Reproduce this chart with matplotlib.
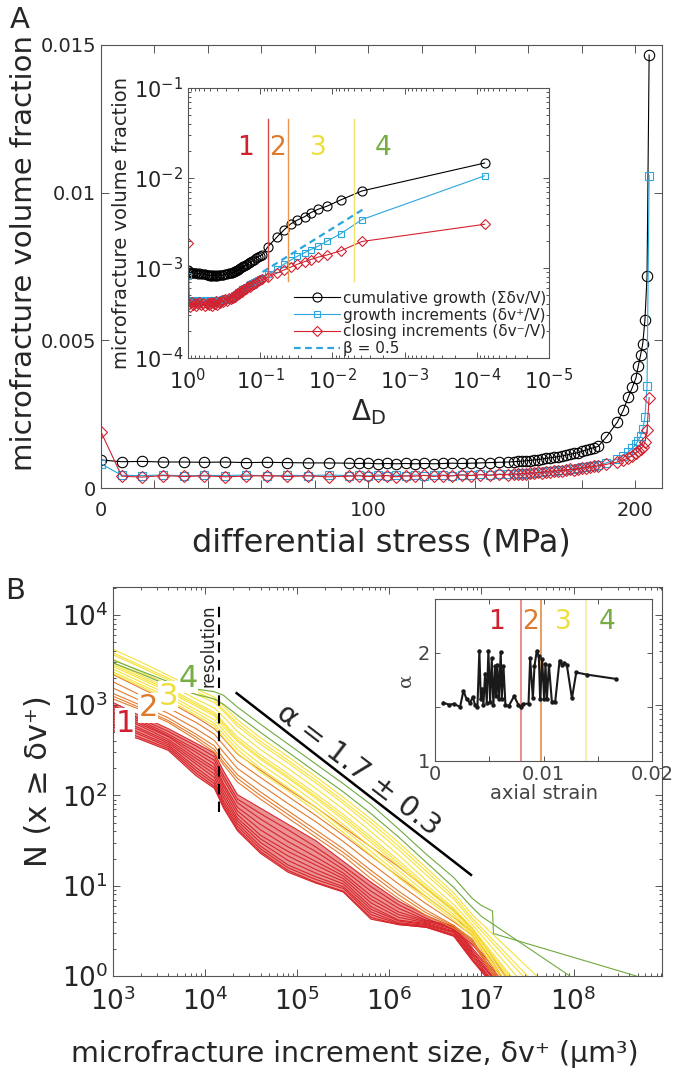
import numpy as np
import matplotlib
matplotlib.use('Agg')
import matplotlib.pyplot as plt
from matplotlib.ticker import (FixedLocator, NullFormatter, LogLocator,
                               FuncFormatter, MultipleLocator)

plt.rcParams['font.family'] = ['DejaVu Sans']
plt.rcParams['mathtext.fontset'] = 'dejavusans'

# ---------------- Panel A data ----------------
PEAK_STRESS = 205.2  # MPa, stress at failure
delta_D = [1.0, 0.9622, 0.9245, 0.8867, 0.8489, 0.8112, 0.7734, 0.7356, 0.6979, 0.6601, 0.6223, 0.5846, 0.5468,
           0.5297, 0.5127, 0.4956, 0.4786, 0.4615, 0.4444, 0.4274, 0.4103, 0.3933, 0.3762, 0.3592, 0.3421,
           0.3251, 0.3080, 0.2909, 0.2739, 0.2568,
           0.2471, 0.2398, 0.2325, 0.2251, 0.2178, 0.2105, 0.2032, 0.1959, 0.1886, 0.1813, 0.1740, 0.1667,
           0.1594, 0.1520, 0.1447, 0.1374, 0.1301, 0.1228, 0.1155,
           0.108, 0.100,
           0.093, 0.078, 0.058, 0.047, 0.038, 0.0306, 0.0242, 0.020, 0.0158, 0.0117, 0.0077, 0.0039, 0.000078]
cum_growth = [0.00095, 0.00089, 0.00090, 0.00088, 0.00088, 0.00087, 0.00088, 0.00086, 0.00087, 0.00086, 0.00085, 0.00085, 0.00084,
              0.00083, 0.00084, 0.00082, 0.00083, 0.00082, 0.00083, 0.00082, 0.00083, 0.00082, 0.00083, 0.00084, 0.00083,
              0.00084, 0.00085, 0.00086, 0.00087, 0.00088,
              0.00089, 0.00090, 0.00091, 0.00092, 0.00093, 0.00095, 0.00096, 0.00098, 0.00100, 0.00102, 0.00104, 0.00106,
              0.00108, 0.00111, 0.00114, 0.00117, 0.00120, 0.00124, 0.00128,
              0.00133, 0.00137,
              0.00141, 0.00173, 0.00223, 0.00264, 0.00308, 0.00341, 0.00372, 0.00412, 0.00449, 0.00489, 0.00570, 0.00718, 0.01466]
growth_inc = [0.00082, 0.00043, 0.00042, 0.00044, 0.00041, 0.00043, 0.00042, 0.00044, 0.00041, 0.00043, 0.00042, 0.00044, 0.00042,
              0.00043, 0.00041, 0.00044, 0.00042, 0.00043, 0.00041, 0.00044, 0.00042, 0.00043, 0.00044, 0.00042, 0.00045,
              0.00043, 0.00046, 0.00044, 0.00047, 0.00046,
              0.00048, 0.00047, 0.00050, 0.00049, 0.00052, 0.00051, 0.00054, 0.00053, 0.00056, 0.00058, 0.00057, 0.00060,
              0.00062, 0.00061, 0.00064, 0.00066, 0.00068, 0.00070, 0.00072,
              0.00074, 0.00076,
              0.00078, 0.00085, 0.00098, 0.00110, 0.00122, 0.00135, 0.00148, 0.00160, 0.00175, 0.00200, 0.00240, 0.00345, 0.01058]
closing_inc = [0.00190, 0.00040, 0.00037, 0.00042, 0.00039, 0.00041, 0.00038, 0.00040, 0.00042, 0.00039, 0.00041, 0.00038, 0.00040,
               0.00041, 0.00039, 0.00040, 0.00042, 0.00038, 0.00041, 0.00040, 0.00043, 0.00039, 0.00042, 0.00041, 0.00044,
               0.00042, 0.00045, 0.00043, 0.00046, 0.00045,
               0.00047, 0.00046, 0.00049, 0.00048, 0.00051, 0.00050, 0.00053, 0.00052, 0.00055, 0.00054, 0.00057, 0.00059,
               0.00058, 0.00061, 0.00063, 0.00062, 0.00065, 0.00067, 0.00069,
               0.00071, 0.00073,
               0.00075, 0.00080, 0.00088, 0.00095, 0.00102, 0.00110, 0.00118, 0.00124, 0.00132, 0.00140, 0.00155, 0.00197, 0.00306]
stage_names = ['1', '2', '3', '4']
stage_bounds_delta = [0.078, 0.0416, 0.0051]
stage_label_delta = [0.158, 0.058, 0.0155, 0.002]
stage_label_vf = 0.0216
stage_line_vf = [7.2e-4, 0.045]
BETA = 0.5
beta_prefactor = 2.75e-4
beta_delta_range = [0.093, 0.0035]

# ---------------- Panel B data ----------------
logx_grid = [3.0, 3.3, 3.6, 3.9, 4.1, 4.2, 4.35, 4.6, 4.9, 5.2, 5.5, 5.8, 6.1, 6.4, 6.7, 6.9]
red_logN = [
    [3.03, 2.88, 2.74, 2.58, 2.47, 2.27, 2.01, 1.86, 1.68, 1.50, 1.27, 1.04, 0.83, 0.67, 0.54, 0.38],
    [3.00, 2.85, 2.71, 2.55, 2.43, 2.22, 1.96, 1.80, 1.62, 1.43, 1.22, 0.99, 0.79, 0.64, 0.51, 0.35],
    [2.99, 2.83, 2.68, 2.51, 2.39, 2.18, 1.92, 1.74, 1.55, 1.38, 1.18, 0.94, 0.75, 0.62, 0.55, 0.31],
    [2.96, 2.81, 2.66, 2.48, 2.35, 2.13, 1.87, 1.68, 1.49, 1.32, 1.14, 0.89, 0.71, 0.61, 0.53, 0.29],
    [2.93, 2.79, 2.65, 2.44, 2.31, 2.10, 1.83, 1.62, 1.43, 1.27, 1.11, 0.85, 0.68, 0.60, 0.56, 0.27],
    [2.91, 2.77, 2.62, 2.41, 2.28, 2.06, 1.79, 1.56, 1.38, 1.23, 1.08, 0.81, 0.65, 0.59, 0.52, 0.26],
    [2.88, 2.74, 2.60, 2.38, 2.24, 2.02, 1.75, 1.52, 1.33, 1.18, 1.05, 0.77, 0.62, 0.58, 0.50, 0.24],
    [2.85, 2.72, 2.58, 2.35, 2.20, 1.98, 1.72, 1.48, 1.28, 1.14, 1.02, 0.74, 0.61, 0.57, 0.49, 0.23],
    [2.82, 2.69, 2.56, 2.31, 2.16, 1.94, 1.69, 1.44, 1.23, 1.10, 0.99, 0.71, 0.59, 0.56, 0.48, 0.21],
    [2.79, 2.67, 2.54, 2.28, 2.13, 1.91, 1.66, 1.41, 1.20, 1.07, 0.97, 0.68, 0.58, 0.55, 0.46, 0.19],
    [2.76, 2.64, 2.52, 2.25, 2.10, 1.88, 1.63, 1.38, 1.17, 1.04, 0.94, 0.65, 0.57, 0.54, 0.45, 0.18],
    [2.72, 2.62, 2.50, 2.22, 2.08, 1.86, 1.61, 1.36, 1.15, 1.03, 0.93, 0.63, 0.57, 0.54, 0.44, 0.17],
]
red_end_logx = [7.21, 7.18, 7.16, 7.14, 7.12, 7.11, 7.10, 7.08, 7.07, 7.06, 7.05, 7.04]
orange_logN = [
    [3.34, 3.19, 3.04, 2.87, 2.74, 2.63, 2.46, 2.28, 2.07, 1.87, 1.65, 1.43, 1.21, 0.97, 0.73, 0.53],
    [3.26, 3.11, 2.97, 2.81, 2.68, 2.56, 2.38, 2.20, 1.99, 1.78, 1.56, 1.33, 1.10, 0.88, 0.65, 0.49],
    [3.19, 3.05, 2.91, 2.74, 2.61, 2.48, 2.30, 2.12, 1.91, 1.71, 1.49, 1.25, 1.02, 0.80, 0.60, 0.45],
    [3.13, 3.00, 2.86, 2.68, 2.55, 2.41, 2.23, 2.04, 1.83, 1.62, 1.41, 1.17, 0.94, 0.73, 0.56, 0.41],
    [3.10, 2.97, 2.83, 2.65, 2.51, 2.37, 2.19, 2.00, 1.79, 1.58, 1.37, 1.13, 0.90, 0.70, 0.55, 0.40],
    [3.07, 2.95, 2.81, 2.62, 2.48, 2.34, 2.15, 1.96, 1.75, 1.54, 1.33, 1.08, 0.86, 0.67, 0.53, 0.38],
]
orange_end_logx = [7.26, 7.22, 7.18, 7.15, 7.14, 7.13]
yellow_logN = [
    [3.62, 3.48, 3.33, 3.18, 3.09, 2.99, 2.84, 2.64, 2.43, 2.21, 1.98, 1.74, 1.48, 1.20, 0.92, 0.68],
    [3.58, 3.44, 3.30, 3.15, 3.06, 2.95, 2.80, 2.60, 2.39, 2.17, 1.94, 1.70, 1.44, 1.16, 0.88, 0.64],
    [3.56, 3.42, 3.28, 3.12, 3.03, 2.93, 2.77, 2.57, 2.36, 2.14, 1.91, 1.66, 1.40, 1.12, 0.85, 0.61],
    [3.51, 3.37, 3.23, 3.07, 2.97, 2.87, 2.71, 2.51, 2.30, 2.08, 1.85, 1.60, 1.34, 1.06, 0.79, 0.57],
    [3.47, 3.33, 3.19, 3.03, 2.92, 2.81, 2.65, 2.45, 2.24, 2.02, 1.79, 1.54, 1.28, 1.01, 0.75, 0.53],
    [3.45, 3.31, 3.17, 3.01, 2.90, 2.79, 2.62, 2.42, 2.21, 1.99, 1.76, 1.51, 1.25, 0.98, 0.73, 0.51],
    [3.43, 3.29, 3.15, 2.99, 2.88, 2.76, 2.60, 2.40, 2.19, 1.97, 1.73, 1.48, 1.22, 0.96, 0.71, 0.50],
    [3.40, 3.26, 3.12, 2.95, 2.84, 2.72, 2.55, 2.35, 2.14, 1.92, 1.68, 1.43, 1.17, 0.92, 0.68, 0.48],
    [3.37, 3.23, 3.09, 2.92, 2.80, 2.68, 2.51, 2.30, 2.09, 1.87, 1.63, 1.38, 1.13, 0.88, 0.65, 0.46],
    [3.35, 3.21, 3.06, 2.89, 2.77, 2.64, 2.47, 2.26, 2.05, 1.83, 1.59, 1.34, 1.09, 0.85, 0.62, 0.44],
]
yellow_end_logx = [7.60, 7.50, 7.45, 7.38, 7.32, 7.30, 7.28, 7.25, 7.22, 7.20]
green_logN = [
    [3.50, 3.38, 3.26, 3.18, 3.15, 3.11, 2.98, 2.79, 2.57, 2.35, 2.13, 1.90, 1.63, 1.35, 1.09, 0.86],
    [3.47, 3.35, 3.22, 3.12, 3.07, 3.01, 2.89, 2.70, 2.48, 2.26, 2.04, 1.80, 1.54, 1.26, 0.98, 0.76],
]
green_tail_logx = [[7.0, 7.12, 7.13, 8.68], [7.0, 7.96]]
green_tail_logN = [[0.78, 0.72, 0.47, 0.0], [0.66, 0.0]]
resolution_size = 1.42e4
resolution_N = [65, 1.4e4]
alpha_line_size = [2.2e4, 7.7e6]
alpha_line_N = [1360, 13.2]
group_label_size = [1350, 2420, 3990, 6600]
group_label_N = [635, 937, 1260, 2000]

# inset B
axial_strain = [0.00077, 0.00132, 0.00175, 0.00231, 0.00262, 0.00292, 0.00323, 0.00348, 0.00369, 0.00391,
                0.00409, 0.00422, 0.00434, 0.00446, 0.00462, 0.00477, 0.00492, 0.00508, 0.00523, 0.00538,
                0.00554, 0.00563, 0.00575, 0.00588, 0.00606, 0.00615, 0.00631, 0.00649, 0.0068, 0.00729,
                0.00769, 0.00791, 0.00815, 0.00862, 0.00877, 0.00902, 0.00917, 0.00938, 0.00957, 0.00969,
                0.00988, 0.01006, 0.01018, 0.01031, 0.0105, 0.01077, 0.01108, 0.01148, 0.01169, 0.0119,
                0.01215, 0.01262, 0.01302, 0.014, 0.0167]
alpha_exp = [1.54, 1.52, 1.53, 1.50, 1.65, 1.57, 1.54, 1.59, 1.52, 1.50,
             2.02, 1.57, 1.67, 1.52, 1.81, 1.54, 2.02, 1.55, 1.95, 1.52,
             1.88, 1.60, 1.89, 1.57, 2.01, 1.57, 1.88, 1.52, 1.51, 1.60,
             1.52, 1.50, 1.53, 1.53, 1.95, 1.58, 1.88, 2.02, 1.97, 1.57,
             1.94, 1.57, 1.90, 1.57, 1.89, 1.55, 1.55, 1.93, 1.89, 1.91,
             1.89, 1.58, 1.82, 1.80, 1.76]
stage_bounds_strain = [0.0079, 0.00976, 0.0139]
stage_label_strain = [0.0057, 0.0088, 0.0118, 0.0159]
stage_label_alpha = 2.29

# ---------------- style ----------------
C_BLACK = '#000000'
C_BLUE = '#2ba6dd'
C_RED = '#d42230'
STAGE_TEXT = ['#d02030', '#de7a2c', '#ecdf3c', '#76ad45']
STAGE_LINE_A = ['#d94a4a', '#e8974c', '#f2e46a']
STAGE_LINE_B = ['#e86c6c', '#e08535', '#f1ec9c']
RED_C = '#d7262b'
ORANGE_C = '#e47a2a'
YELLOW_C = '#f6e23a'
GREEN_C = '#6faa3e'
SPINE = '#555555'
TXT = '#262626'

W, H = 677, 1088
fig = plt.figure(figsize=(W / 100, H / 100), dpi=100)


def px_axes(l, t, r, b):
    return fig.add_axes([l / W, 1 - b / H, (r - l) / W, (b - t) / H])


def style(ax, size, length=5, minor_len=2.5):
    for s in ax.spines.values():
        s.set_color(SPINE)
        s.set_linewidth(0.8)
    ax.tick_params(which='both', direction='in', top=True, right=True,
                   colors=SPINE, labelcolor=TXT, labelsize=size, width=0.7)
    ax.tick_params(which='major', length=length)
    ax.tick_params(which='minor', length=minor_len)


# ---------------- Panel A main ----------------
stress = [PEAK_STRESS * (1 - d) for d in delta_D]
axA = px_axes(101, 45, 662, 488)
axA.plot(stress, cum_growth, '-o', color=C_BLACK, mfc='none', ms=7.5, lw=0.8, mew=0.8)
axA.plot(stress, growth_inc, '-s', color=C_BLUE, mfc='none', ms=5.5, lw=0.8, mew=0.8)
axA.plot(stress, closing_inc, '-D', color=C_RED, mfc='none', ms=6.3, lw=0.8, mew=0.8)
axA.set_xlim(0, 210)
axA.set_ylim(0, 0.015)
axA.xaxis.set_major_locator(MultipleLocator(20))
axA.xaxis.set_major_formatter(FuncFormatter(lambda v, p: f'{v:.0f}' if abs(v % 100) < 1e-6 else ''))
axA.yaxis.set_major_locator(FixedLocator([0, 0.005, 0.01, 0.015]))
axA.yaxis.set_major_formatter(FuncFormatter(lambda v, p: {0: '0', 0.005: '0.005', 0.01: '0.01', 0.015: '0.015'}.get(round(v, 3), '')))
style(axA, 14, length=6)
axA.tick_params(axis='x', pad=9)
axA.set_xlabel('differential stress (MPa)', fontsize=23, color=TXT, labelpad=6)
axA.set_ylabel('microfracture volume fraction', fontsize=21, color=TXT, labelpad=6)
axA.yaxis.set_label_coords(-0.113, 0.53)
fig.text(10 / W, 1 - 6 / H, 'A', fontsize=21, va='top', ha='left', color=TXT)

# ---------------- Panel A inset ----------------
axI = px_axes(188, 88, 549, 358)
axI.set_xscale('log')
axI.set_yscale('log')
axI.plot(delta_D, cum_growth, '-o', color=C_BLACK, mfc='none', ms=6.5, lw=0.8, mew=0.8,
         label='cumulative growth (\u03a3\u03b4v/V)')
axI.plot(delta_D, growth_inc, '-s', color=C_BLUE, mfc='none', ms=5, lw=0.8, mew=0.8,
         label='growth increments (\u03b4v\u207a/V)')
axI.plot(delta_D, closing_inc, '-D', color=C_RED, mfc='none', ms=5.5, lw=0.8, mew=0.8,
         label='closing increments (\u03b4v\u207b/V)')
bx = np.array(beta_delta_range)
axI.plot(bx, beta_prefactor * bx ** (-BETA), '--', color=C_BLUE, lw=1.6, dashes=(3, 2),
         label='\u03b2 = ' + f'{BETA}')
for d, c in zip(stage_bounds_delta, STAGE_LINE_A):
    axI.plot([d, d], stage_line_vf, color=c, lw=1.0)
for d, name, c in zip(stage_label_delta, stage_names, STAGE_TEXT):
    axI.text(d, stage_label_vf, name, color=c, fontsize=19, ha='center', va='center')
axI.set_xlim(1.0, 1e-5)
axI.set_ylim(1e-4, 1e-1)
axI.xaxis.set_major_locator(LogLocator(base=10, numticks=12))
axI.xaxis.set_minor_locator(LogLocator(base=10, subs=np.arange(2, 10), numticks=12))
axI.xaxis.set_minor_formatter(NullFormatter())
axI.yaxis.set_major_locator(LogLocator(base=10, numticks=12))
axI.yaxis.set_minor_locator(LogLocator(base=10, subs=np.arange(2, 10), numticks=12))
axI.yaxis.set_minor_formatter(NullFormatter())
style(axI, 15, length=4, minor_len=2)
axI.tick_params(axis='x', pad=7)
axI.set_ylabel('microfracture volume fraction', fontsize=14, color=TXT, labelpad=2)
axI.set_xlabel(r'$\Delta_{\mathrm{D}}$', fontsize=20, color=TXT, labelpad=3)
leg = axI.legend(loc='lower right', bbox_to_anchor=(1.0, -0.005), frameon=False, fontsize=11,
                 handlelength=3.0, handletextpad=0.2, labelspacing=0.12, borderaxespad=0.1,
                 borderpad=0.1)
for t in leg.get_texts():
    t.set_color(TXT)

# ---------------- Panel B main ----------------
axB = px_axes(113, 587, 662, 976)
axB.set_xscale('log')
axB.set_yscale('log')
gx = np.array(logx_grid)


def draw_curve(lx, lN, color, lw=0.8):
    axB.plot(10 ** np.array(lx), 10 ** np.array(lN), color=color, lw=lw, solid_joinstyle='round')


axB.fill_between(10 ** gx, 10 ** np.array(red_logN[-1]), 10 ** np.array(red_logN[0]),
                 color=RED_C, alpha=0.5, lw=0)
for lN, e in zip(red_logN, red_end_logx):
    draw_curve(list(gx) + [e], lN + [0.0], RED_C)
for lN, e in zip(orange_logN, orange_end_logx):
    draw_curve(list(gx) + [e], lN + [0.0], ORANGE_C)
for lN, e in zip(yellow_logN, yellow_end_logx):
    draw_curve(list(gx) + [e], lN + [0.0], YELLOW_C)
for lN, tx, tN in zip(green_logN, green_tail_logx, green_tail_logN):
    draw_curve(list(gx) + tx, lN + tN, GREEN_C)
axB.plot([resolution_size, resolution_size], resolution_N, '--', color='k', lw=1.5, dashes=(5, 3.5))
axB.text(resolution_size * 0.76, 4600, 'resolution', rotation=90, fontsize=12, ha='center',
         va='center', color=TXT)
axB.plot(alpha_line_size, alpha_line_N, '-', color='k', lw=1.8)
axB.text(4.6e5, 190, '\u03b1 = 1.7 \u00b1 0.3', rotation=-37.5, rotation_mode='anchor',
         fontsize=21, ha='center', va='center', color=TXT)
for s, n, name, c in zip(group_label_size, group_label_N, stage_names, STAGE_TEXT):
    axB.text(s, n, name, color=c, fontsize=22, ha='center', va='center',
             bbox=dict(facecolor='white', edgecolor='none', pad=0.3))
axB.set_xlim(1e3, 10 ** 8.96)
axB.set_ylim(1, 10 ** 4.31)
axB.xaxis.set_major_locator(LogLocator(base=10, numticks=12))
axB.xaxis.set_minor_locator(LogLocator(base=10, subs=np.arange(2, 10), numticks=12))
axB.xaxis.set_minor_formatter(NullFormatter())
axB.yaxis.set_major_locator(LogLocator(base=10, numticks=12))
axB.yaxis.set_minor_locator(LogLocator(base=10, subs=np.arange(2, 10), numticks=12))
axB.yaxis.set_minor_formatter(NullFormatter())
style(axB, 19, length=5, minor_len=2.5)
axB.tick_params(axis='x', pad=8)
axB.set_xlabel('microfracture increment size, \u03b4v\u207a (\u03bcm\u00b3)', fontsize=20.5,
               color=TXT, labelpad=10)
axB.xaxis.set_label_coords(0.44, -0.165)
axB.set_ylabel('N (x \u2265 \u03b4v\u207a)', fontsize=22, color=TXT, labelpad=6)
fig.text(5 / W, 1 - 577 / H, 'B', fontsize=21, va='top', ha='left', color=TXT)

# ---------------- Panel B inset ----------------
axS = px_axes(435, 599, 652, 761)
axS.set_facecolor('white')
for sx, c in zip(stage_bounds_strain, STAGE_LINE_B):
    axS.axvline(sx, color=c, lw=1.1)
axS.plot(axial_strain, alpha_exp, '-o', color='#1a1a1a', ms=2.2, lw=1.5)
for sx, name, c in zip(stage_label_strain, stage_names, STAGE_TEXT):
    axS.text(sx, stage_label_alpha, name, color=c, fontsize=19, ha='center', va='center')
axS.set_xlim(0, 0.02)
axS.set_ylim(1, 2.5)
axS.xaxis.set_major_locator(FixedLocator([0, 0.005, 0.01, 0.015, 0.02]))
axS.xaxis.set_major_formatter(FuncFormatter(lambda v, p: {0: '0', 0.01: '0.01', 0.02: '0.02'}.get(round(v, 3), '')))
axS.yaxis.set_major_locator(FixedLocator([1, 1.5, 2, 2.5]))
axS.yaxis.set_major_formatter(FuncFormatter(lambda v, p: {1.0: '1', 2.0: '2'}.get(round(v, 1), '')))
style(axS, 14, length=3.5)
axS.tick_params(axis='x', pad=3)
axS.set_xlabel('axial strain', fontsize=14, color='#444444', labelpad=0)
axS.set_ylabel('\u03b1', fontsize=14, color='#444444', labelpad=2, family='DejaVu Serif')
for t in axS.get_xticklabels() + axS.get_yticklabels():
    t.set_color('#444444')

fig.savefig('out.png', dpi=100)
